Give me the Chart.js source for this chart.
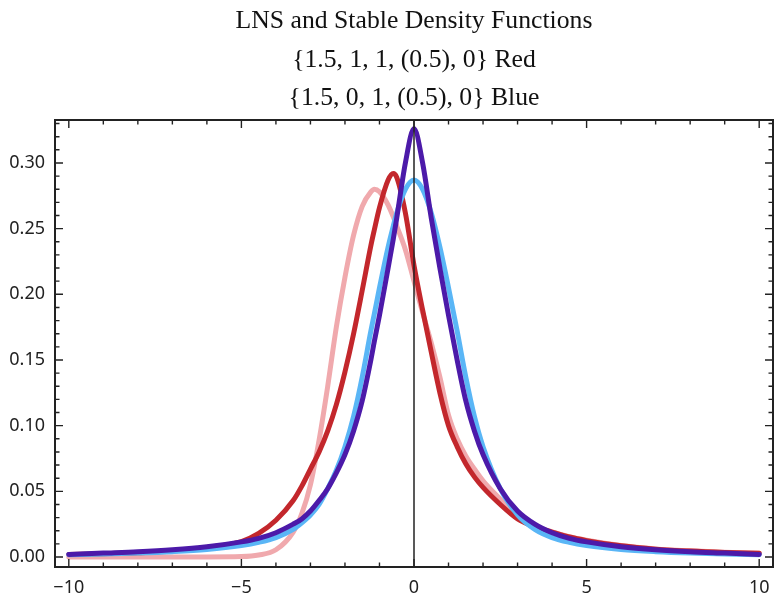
<!DOCTYPE html>
<html>
<head>
<meta charset="utf-8">
<script src="https://cdn.jsdelivr.net/npm/chart.js@4.4.1/dist/chart.umd.min.js"></script>
<style>
  html, body { margin: 0; padding: 0; background: #fff; }
  #wrap { width: 775px; height: 597px; }
</style>
</head>
<body>
<div id="wrap"><canvas id="myChart"></canvas></div>
<script>
// title lines
var titleLines = ["LNS and Stable Density Functions", "{1.5, 1, 1, (0.5), 0} Red", "{1.5, 0, 1, (0.5), 0} Blue"];

// x positions the curves were read at
var xs = [-10, -9, -8, -7, -6, -5, -4.5, -4, -3.5, -3.25, -3, -2.75, -2.5, -2.25, -2, -1.75, -1.5, -1.25, -1.15, -1,
  -0.75, -0.6, -0.5, -0.25, 0, 0.25, 0.5, 0.75, 1, 1.25, 1.5, 1.75, 2, 2.5, 3, 3.5, 4, 4.5, 5, 6, 7, 8, 9, 10];

// light red curve
var pinkCurve = [0, 0, 0, 0, 0, 0.0003, 0.0015, 0.0055, 0.019, 0.033, 0.055, 0.089, 0.130, 0.175, 0.213, 0.245, 0.267, 0.278, 0.280, 0.278,
  0.268, 0.259, 0.252, 0.234, 0.210, 0.186, 0.163, 0.137, 0.108, 0.090, 0.077, 0.067, 0.058, 0.044, 0.031, 0.0235, 0.0192, 0.0154, 0.0127, 0.0087, 0.0062, 0.0047, 0.0036, 0.0029];

// dark red curve
var redCurve = [0.002, 0.0025, 0.0032, 0.0045, 0.0072, 0.0118, 0.018, 0.028, 0.043, 0.054, 0.067, 0.080, 0.096, 0.116, 0.141, 0.170, 0.203, 0.237, 0.249, 0.266,
  0.287, 0.292, 0.289, 0.262, 0.222, 0.188, 0.156, 0.125, 0.100, 0.084, 0.071, 0.061, 0.053, 0.040, 0.029, 0.023, 0.019, 0.0152, 0.0125, 0.0085, 0.006, 0.0045, 0.0035, 0.0028];

// light blue curve
var lightBlueCurve = [0.0018, 0.0023, 0.003, 0.0041, 0.0058, 0.0088, 0.0112, 0.0148, 0.021, 0.026, 0.032, 0.040, 0.052, 0.066, 0.084, 0.107, 0.137, 0.172, 0.185, 0.205,
  0.236, 0.252, 0.262, 0.280, 0.287, 0.280, 0.262, 0.236, 0.205, 0.172, 0.137, 0.107, 0.084, 0.052, 0.032, 0.021, 0.0148, 0.0112, 0.0088, 0.0058, 0.0041, 0.003, 0.0023, 0.0018];

// dark blue / purple curve
var purpleCurve = [0.002, 0.003, 0.004, 0.0055, 0.0078, 0.0115, 0.0142, 0.0185, 0.025, 0.029, 0.035, 0.043, 0.052, 0.064, 0.078, 0.096, 0.119, 0.150, 0.164, 0.184,
  0.220, 0.242, 0.258, 0.300, 0.326, 0.300, 0.258, 0.220, 0.184, 0.150, 0.119, 0.096, 0.078, 0.052, 0.035, 0.025, 0.0185, 0.0142, 0.0115, 0.0078, 0.0055, 0.004, 0.003, 0.002];

// tick labels
var xTicks = [-10, -5, 0, 5, 10];
var yTicks = [0, 0.05, 0.10, 0.15, 0.20, 0.25, 0.30];

function toPoints(vals) {
  return xs.map(function (x, i) { return { x: x, y: vals[i] }; });
}

// inward frame ticks on all four sides, plus the axis line at x = 0
var frameTicks = {
  id: 'frameTicks',
  afterDatasetsDraw: function (chart) {
    var ctx = chart.ctx, a = chart.chartArea, sx = chart.scales.x, sy = chart.scales.y;
    ctx.save();
    ctx.strokeStyle = '#222';
    ctx.lineWidth = 1.5;
    var x0 = sx.getPixelForValue(0);
    ctx.beginPath(); ctx.moveTo(x0, a.top); ctx.lineTo(x0, a.bottom); ctx.stroke();

    ctx.lineWidth = 1.4;
    ctx.beginPath();
    for (var i = -10; i <= 10; i++) {
      var len = (i % 5 === 0) ? 8 : 4.5;
      var px = sx.getPixelForValue(i);
      ctx.moveTo(px, a.bottom); ctx.lineTo(px, a.bottom - len);
      ctx.moveTo(px, a.top); ctx.lineTo(px, a.top + len);
    }
    for (var j = 0; j <= 33; j++) {
      var lenY = (j % 5 === 0) ? 8 : 4.5;
      var py = sy.getPixelForValue(j / 100);
      if (py < a.top + 1) continue;
      ctx.moveTo(a.left, py); ctx.lineTo(a.left + lenY, py);
      ctx.moveTo(a.right, py); ctx.lineTo(a.right - lenY, py);
    }
    ctx.stroke();

    ctx.lineWidth = 2;
    ctx.strokeRect(a.left, a.top, a.right - a.left, a.bottom - a.top);
    ctx.restore();
  }
};

var ctx = document.getElementById("myChart");
var myChart = new Chart(ctx, {
  type: 'line',
  data: {
    datasets: [
      {
        data: toPoints(pinkCurve),
        label: "LNS Red",
        borderColor: "#f0a9ad",
        order: 4
      },
      {
        data: toPoints(redCurve),
        label: "Stable Red",
        borderColor: "#c3272c",
        order: 3
      },
      {
        data: toPoints(lightBlueCurve),
        label: "LNS Blue",
        borderColor: "#5ab6f6",
        order: 2
      },
      {
        data: toPoints(purpleCurve),
        label: "Stable Blue",
        borderColor: "#4c1aa9",
        order: 1
      }
    ]
  },
  options: {
    maintainAspectRatio: false,
    responsive: true,
    animation: false,
    layout: { padding: { left: 0, right: 2, top: 0, bottom: 0 } },
    elements: {
      point: { radius: 0 },
      line: { borderWidth: 5, cubicInterpolationMode: 'monotone', fill: false, borderCapStyle: 'round', borderJoinStyle: 'round' }
    },
    plugins: {
      legend: { display: false },
      tooltip: { enabled: false },
      title: {
        display: true,
        fullSize: false,
        text: titleLines,
        color: '#111',
        font: { family: "'Liberation Serif', 'Times New Roman', serif", size: 25.7, weight: 'normal', lineHeight: '38.5px' },
        padding: { top: 2.5, bottom: 2 }
      }
    },
    scales: {
      x: {
        type: 'linear',
        min: -10.4,
        max: 10.4,
        grid: { display: false, drawTicks: false },
        border: { display: false },
        afterBuildTicks: function (scale) { scale.ticks = xTicks.map(function (v) { return { value: v }; }); },
        afterFit: function (scale) {
          scale.height = 30;
          scale.paddingLeft = 0;
          scale.paddingRight = 0;
        },
        ticks: {
          autoSkip: false,
          maxRotation: 0,
          padding: 10,
          color: '#222',
          font: { family: "'Noto Sans', sans-serif", size: 18 },
          callback: function (v) { return v < 0 ? '\u2212' + Math.abs(v) : String(v); }
        }
      },
      y: {
        type: 'linear',
        min: -0.0076,
        max: 0.3327,
        grid: { display: false, drawTicks: false },
        border: { display: false },
        afterBuildTicks: function (scale) { scale.ticks = yTicks.map(function (v) { return { value: v }; }); },
        afterFit: function (scale) {
          scale.width = 55;
          scale.paddingTop = 0;
          scale.paddingBottom = 0;
        },
        ticks: {
          autoSkip: false,
          padding: 10,
          color: '#222',
          font: { family: "'Noto Sans', sans-serif", size: 18 },
          callback: function (v) { return v.toFixed(2); }
        }
      }
    }
  },
  plugins: [frameTicks]
});
</script>
</body>
</html>
